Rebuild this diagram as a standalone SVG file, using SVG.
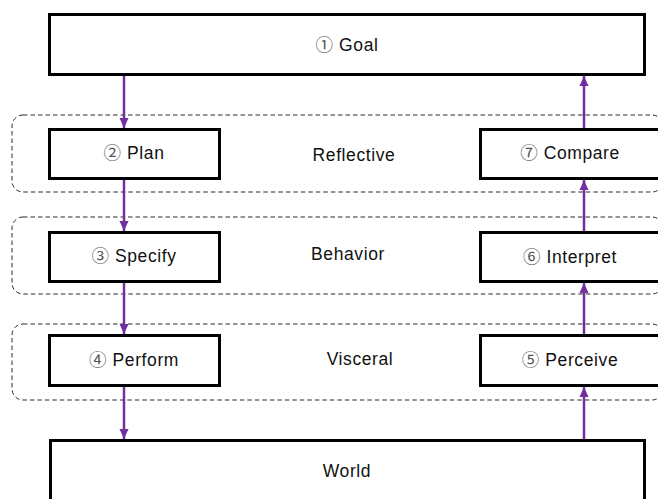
<svg xmlns="http://www.w3.org/2000/svg" width="658" height="499" viewBox="0 0 658 499">
  <style>
    .box { fill: #ffffff; stroke: #000000; stroke-width: 3; }
    .layer { fill: none; stroke: #2a2a2a; stroke-width: 1; stroke-dasharray: 4.5 3; }
    .lbl { font-family: "Liberation Sans", "Noto Sans CJK KR", sans-serif; font-size: 17.5px; letter-spacing: 0.6px; fill: #111111; text-anchor: middle; }
    .num { fill: #555555; }
    .conn { stroke: #7030A0; stroke-width: 2.5; fill: none; }
  </style>
  <defs>
    <marker id="arrow" markerUnits="userSpaceOnUse" markerWidth="10" markerHeight="10" viewBox="0 0 10 10" refX="10" refY="5" orient="auto">
      <path d="M0,0.5 L10,5 L0,9.5 Z" fill="#7030A0"/>
    </marker>
  </defs>
  <rect width="658" height="499" fill="#ffffff"/>

  <g id="layers">
    <g id="layer-reflective">
      <rect class="layer" x="12" y="115" width="651" height="77" rx="11" ry="11"/>
      <text class="lbl" x="354" y="161">Reflective</text>
    </g>
    <g id="layer-behavior">
      <rect class="layer" x="12" y="217" width="651" height="77" rx="11" ry="11"/>
      <text class="lbl" x="348" y="260">Behavior</text>
    </g>
    <g id="layer-visceral">
      <rect class="layer" x="12" y="324" width="651" height="76" rx="11" ry="11"/>
      <text class="lbl" x="360" y="365">Visceral</text>
    </g>
  </g>

  <g id="connectors">
    <line class="conn" x1="124" y1="76" x2="124" y2="128" marker-end="url(#arrow)"/>
    <line class="conn" x1="124" y1="180" x2="124" y2="231" marker-end="url(#arrow)"/>
    <line class="conn" x1="124" y1="283" x2="124" y2="334" marker-end="url(#arrow)"/>
    <line class="conn" x1="124" y1="387" x2="124" y2="439" marker-end="url(#arrow)"/>
    <line class="conn" x1="584" y1="439" x2="584" y2="387" marker-end="url(#arrow)"/>
    <line class="conn" x1="584" y1="334" x2="584" y2="283" marker-end="url(#arrow)"/>
    <line class="conn" x1="584" y1="231" x2="584" y2="180" marker-end="url(#arrow)"/>
    <line class="conn" x1="584" y1="128" x2="584" y2="76" marker-end="url(#arrow)"/>
  </g>

  <g id="goal">
    <rect class="box" x="49.5" y="14.5" width="595" height="60"/>
    <text class="lbl" x="347" y="51"><tspan class="num">①</tspan> Goal</text>
  </g>
  <g id="plan">
    <rect class="box" x="49.5" y="129.5" width="170" height="49"/>
    <text class="lbl" x="134" y="159"><tspan class="num">②</tspan> Plan</text>
  </g>
  <g id="specify">
    <rect class="box" x="49.5" y="232.5" width="170" height="49"/>
    <text class="lbl" x="134" y="262"><tspan class="num">③</tspan> Specify</text>
  </g>
  <g id="perform">
    <rect class="box" x="49.5" y="335.5" width="170" height="50"/>
    <text class="lbl" x="134" y="366"><tspan class="num">④</tspan> Perform</text>
  </g>
  <g id="perceive">
    <rect class="box" x="480.5" y="335.5" width="180" height="50"/>
    <text class="lbl" x="570" y="366"><tspan class="num">⑤</tspan> Perceive</text>
  </g>
  <g id="interpret">
    <rect class="box" x="480.5" y="232.5" width="180" height="49"/>
    <text class="lbl" x="570" y="263"><tspan class="num">⑥</tspan> Interpret</text>
  </g>
  <g id="compare">
    <rect class="box" x="480.5" y="129.5" width="180" height="49"/>
    <text class="lbl" x="570" y="159"><tspan class="num">⑦</tspan> Compare</text>
  </g>
  <g id="world">
    <rect class="box" x="50.5" y="440.5" width="594" height="80"/>
    <text class="lbl" x="347" y="477">World</text>
  </g>
</svg>
